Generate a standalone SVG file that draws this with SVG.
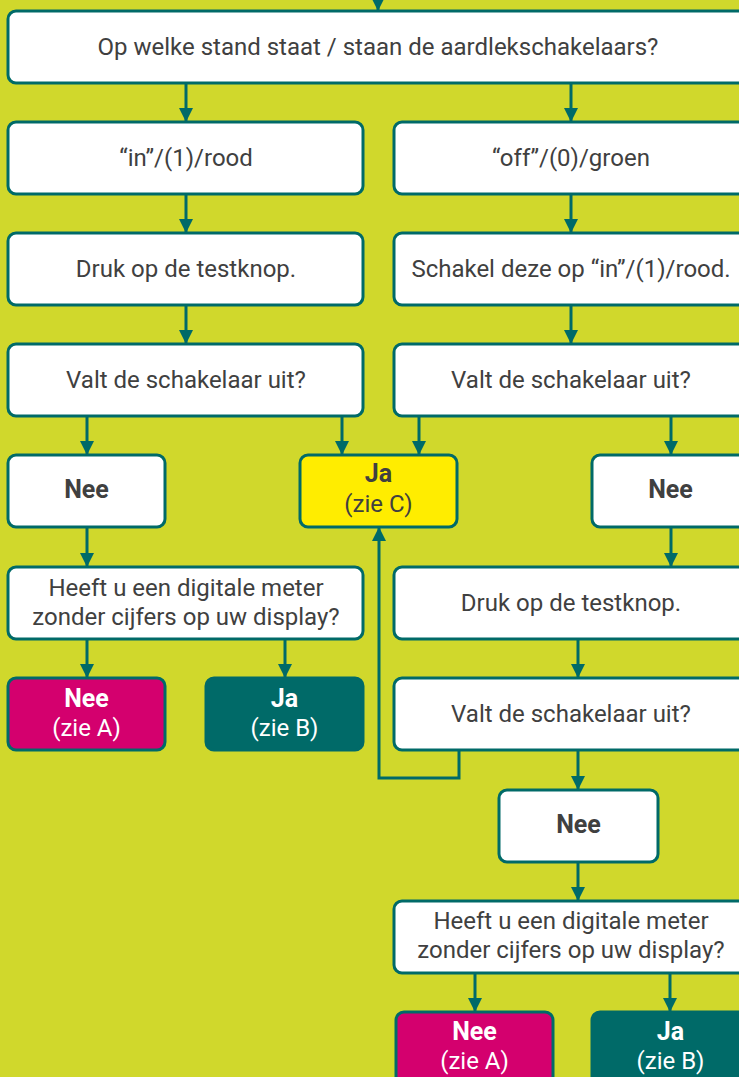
<svg xmlns="http://www.w3.org/2000/svg" width="739" height="1077" viewBox="0 0 739 1077">
<defs>
<marker id="ah" markerUnits="userSpaceOnUse" markerWidth="14" markerHeight="16" refX="14" refY="7" orient="auto" viewBox="0 0 14 14">
<path d="M0,0 L14,7 L0,14 Z" fill="#006a68"/>
</marker>
<style>
.bx{fill:#ffffff;stroke:#006a68;stroke-width:3}
.yl{fill:#ffed00;stroke:#006a68;stroke-width:3}
.mg{fill:#d4006e;stroke:#006a68;stroke-width:3}
.tl{fill:#006a68;stroke:#006a68;stroke-width:3}
text{font-family:Roboto,"Liberation Sans",sans-serif;font-size:24px;fill:#404040;text-anchor:middle}
.b{font-weight:bold;font-size:25px}
.w{fill:#ffffff}
.c{fill:none;stroke:#006a68;stroke-width:3}
.a{marker-end:url(#ah)}
</style>
</defs>
<rect width="739" height="1077" fill="#d0d82c"/>
<g id="connectors">
<path class="c a" d="M378,0 V11"/>
<path class="c a" d="M186,83 V122"/>
<path class="c a" d="M571,83 V122"/>
<path class="c a" d="M186,194 V233"/>
<path class="c a" d="M571,194 V233"/>
<path class="c a" d="M186,305 V344"/>
<path class="c a" d="M571,305 V344"/>
<path class="c a" d="M87,416 V455"/>
<path class="c a" d="M342,416 V455"/>
<path class="c a" d="M419,416 V455"/>
<path class="c a" d="M671,416 V455"/>
<path class="c a" d="M87,527 V567"/>
<path class="c a" d="M671,527 V567"/>
<path class="c a" d="M87,639 V678"/>
<path class="c a" d="M285,639 V678"/>
<path class="c a" d="M578,639 V678"/>
<path class="c a" d="M459,750 V778 H379 V527"/>
<path class="c a" d="M578,750 V790"/>
<path class="c a" d="M578,862 V901"/>
<path class="c a" d="M475,973 V1012"/>
<path class="c a" d="M670,973 V1012"/>
</g>
<g id="q1"><rect class="bx" x="8" y="11" width="741" height="72" rx="8"/><text x="378" y="55">Op welke stand staat / staan de aardlekschakelaars?</text></g>
<g id="in"><rect class="bx" x="8" y="122" width="355" height="72" rx="8"/><text x="186" y="166">“in”/(1)/rood</text></g>
<g id="off"><rect class="bx" x="394" y="122" width="355" height="72" rx="8"/><text x="571" y="166">“off”/(0)/groen</text></g>
<g id="test1"><rect class="bx" x="8" y="233" width="355" height="72" rx="8"/><text x="186" y="277">Druk op de testknop.</text></g>
<g id="schakel"><rect class="bx" x="394" y="233" width="355" height="72" rx="8"/><text x="571" y="277">Schakel deze op “in”/(1)/rood.</text></g>
<g id="valt1"><rect class="bx" x="8" y="344" width="355" height="72" rx="8"/><text x="186" y="388">Valt de schakelaar uit?</text></g>
<g id="valt2"><rect class="bx" x="394" y="344" width="355" height="72" rx="8"/><text x="571" y="388">Valt de schakelaar uit?</text></g>
<g id="nee1"><rect class="bx" x="8" y="455" width="157" height="72" rx="8"/><text class="b" x="86.5" y="498">Nee</text></g>
<g id="jaC"><rect class="yl" x="300" y="455" width="157" height="72" rx="8"/><text class="b" x="378.5" y="482">Ja</text><text x="378.5" y="512">(zie C)</text></g>
<g id="nee2"><rect class="bx" x="592" y="455" width="157" height="72" rx="8"/><text class="b" x="670.5" y="498">Nee</text></g>
<g id="heeft1"><rect class="bx" x="8" y="567" width="355" height="72" rx="8"/><text x="186" y="596">Heeft u een digitale meter</text><text x="186" y="625">zonder cijfers op uw display?</text></g>
<g id="test2"><rect class="bx" x="394" y="567" width="355" height="72" rx="8"/><text x="571" y="611">Druk op de testknop.</text></g>
<g id="neeA1"><rect class="mg" x="8" y="678" width="157" height="72" rx="8"/><text class="b w" x="86.5" y="707">Nee</text><text class="w" x="86.5" y="736">(zie A)</text></g>
<g id="jaB1"><rect class="tl" x="206" y="678" width="157" height="72" rx="8"/><text class="b w" x="284.5" y="707">Ja</text><text class="w" x="284.5" y="736">(zie B)</text></g>
<g id="valt3"><rect class="bx" x="394" y="678" width="355" height="72" rx="8"/><text x="571" y="722">Valt de schakelaar uit?</text></g>
<g id="nee3"><rect class="bx" x="499" y="790" width="159" height="72" rx="8"/><text class="b" x="578.5" y="833">Nee</text></g>
<g id="heeft2"><rect class="bx" x="394" y="901" width="355" height="72" rx="8"/><text x="571" y="929">Heeft u een digitale meter</text><text x="571" y="958">zonder cijfers op uw display?</text></g>
<g id="neeA2"><rect class="mg" x="396" y="1012" width="157" height="72" rx="8"/><text class="b w" x="474.5" y="1040">Nee</text><text class="w" x="474.5" y="1069">(zie A)</text></g>
<g id="jaB2"><rect class="tl" x="592" y="1012" width="157" height="72" rx="8"/><text class="b w" x="670.5" y="1040">Ja</text><text class="w" x="670.5" y="1069">(zie B)</text></g>
</svg>
